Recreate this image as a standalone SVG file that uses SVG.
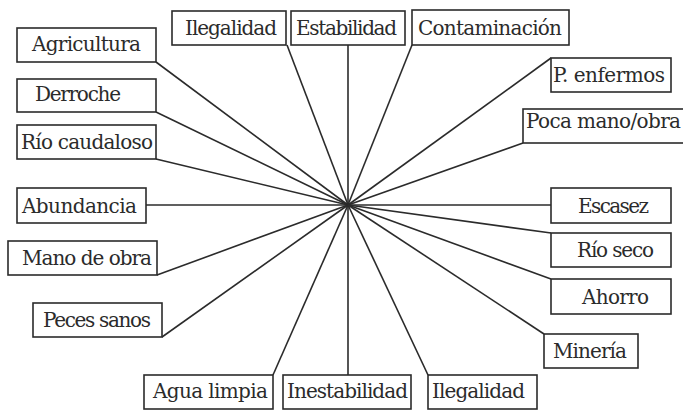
<svg xmlns="http://www.w3.org/2000/svg" width="683" height="411" viewBox="0 0 683 411">
<style>
rect{fill:#fff;stroke:#2b2b2b;stroke-width:1.6}
line{stroke:#2b2b2b;stroke-width:1.6}
text{font-family:"DejaVu Serif","Liberation Serif",serif;font-size:20px;fill:#2b2b2b}
</style>
<rect x="0" y="0" width="683" height="411" style="stroke:none"/>
<g id="connectors">
<line x1="156" y1="62" x2="348" y2="205"/>
<line x1="156" y1="112" x2="348" y2="205"/>
<line x1="156" y1="159" x2="348" y2="205"/>
<line x1="287" y1="45" x2="348" y2="205"/>
<line x1="348" y1="45" x2="348" y2="205"/>
<line x1="412" y1="45" x2="348" y2="205"/>
<line x1="551" y1="58" x2="348" y2="205"/>
<line x1="523" y1="143" x2="348" y2="205"/>
<line x1="146" y1="205" x2="348" y2="205"/>
<line x1="551" y1="205" x2="348" y2="205"/>
<line x1="157" y1="275" x2="348" y2="205"/>
<line x1="162" y1="337" x2="348" y2="205"/>
<line x1="273" y1="375" x2="348" y2="205"/>
<line x1="348" y1="375" x2="348" y2="205"/>
<line x1="428" y1="375" x2="348" y2="205"/>
<line x1="551" y1="233" x2="348" y2="205"/>
<line x1="551" y1="279" x2="348" y2="205"/>
<line x1="544" y1="334" x2="348" y2="205"/>
</g>
<g id="n-agricultura"><rect x="17" y="28" width="139" height="34"/><text x="32" y="51" textLength="109">Agricultura</text></g>
<g id="n-derroche"><rect x="17" y="79" width="139" height="33"/><text x="35" y="101" textLength="86">Derroche</text></g>
<g id="n-rio-caudaloso"><rect x="17" y="125" width="139" height="34"/><text x="21" y="149" textLength="132">Río caudaloso</text></g>
<g id="n-abundancia"><rect x="17" y="188" width="129" height="35"/><text x="22" y="213" textLength="115">Abundancia</text></g>
<g id="n-mano-de-obra"><rect x="8" y="241" width="149" height="34"/><text x="22" y="265" textLength="130">Mano de obra</text></g>
<g id="n-peces-sanos"><rect x="33" y="303" width="129" height="34"/><text x="43" y="327" textLength="108">Peces sanos</text></g>
<g id="n-agua-limpia"><rect x="144" y="375" width="129" height="34"/><text x="153" y="398" textLength="115">Agua limpia</text></g>
<g id="n-inestabilidad"><rect x="283" y="375" width="128" height="34"/><text x="287" y="398" textLength="121">Inestabilidad</text></g>
<g id="n-ilegalidad-b"><rect x="428" y="375" width="109" height="34"/><text x="432" y="398" textLength="93">Ilegalidad</text></g>
<g id="n-mineria"><rect x="544" y="334" width="94" height="34"/><text x="553" y="358" textLength="74">Minería</text></g>
<g id="n-ahorro"><rect x="551" y="279" width="120" height="35"/><text x="582" y="304" textLength="67">Ahorro</text></g>
<g id="n-rio-seco"><rect x="551" y="233" width="120" height="34"/><text x="577" y="257" textLength="77">Río seco</text></g>
<g id="n-escasez"><rect x="551" y="188" width="120" height="35"/><text x="578" y="213" textLength="71">Escasez</text></g>
<g id="n-poca-mano-obra"><rect x="523" y="109" width="170" height="34"/><text x="526" y="128" textLength="155">Poca mano/obra</text></g>
<g id="n-p-enfermos"><rect x="551" y="58" width="120" height="34"/><text x="553" y="82" textLength="112">P. enfermos</text></g>
<g id="n-contaminacion"><rect x="412" y="10" width="157" height="35"/><text x="418" y="35" textLength="144">Contaminación</text></g>
<g id="n-estabilidad"><rect x="291" y="11" width="114" height="34"/><text x="296" y="35" textLength="101">Estabilidad</text></g>
<g id="n-ilegalidad-t"><rect x="172" y="11" width="114" height="34"/><text x="185" y="35" textLength="92">Ilegalidad</text></g>
</svg>
